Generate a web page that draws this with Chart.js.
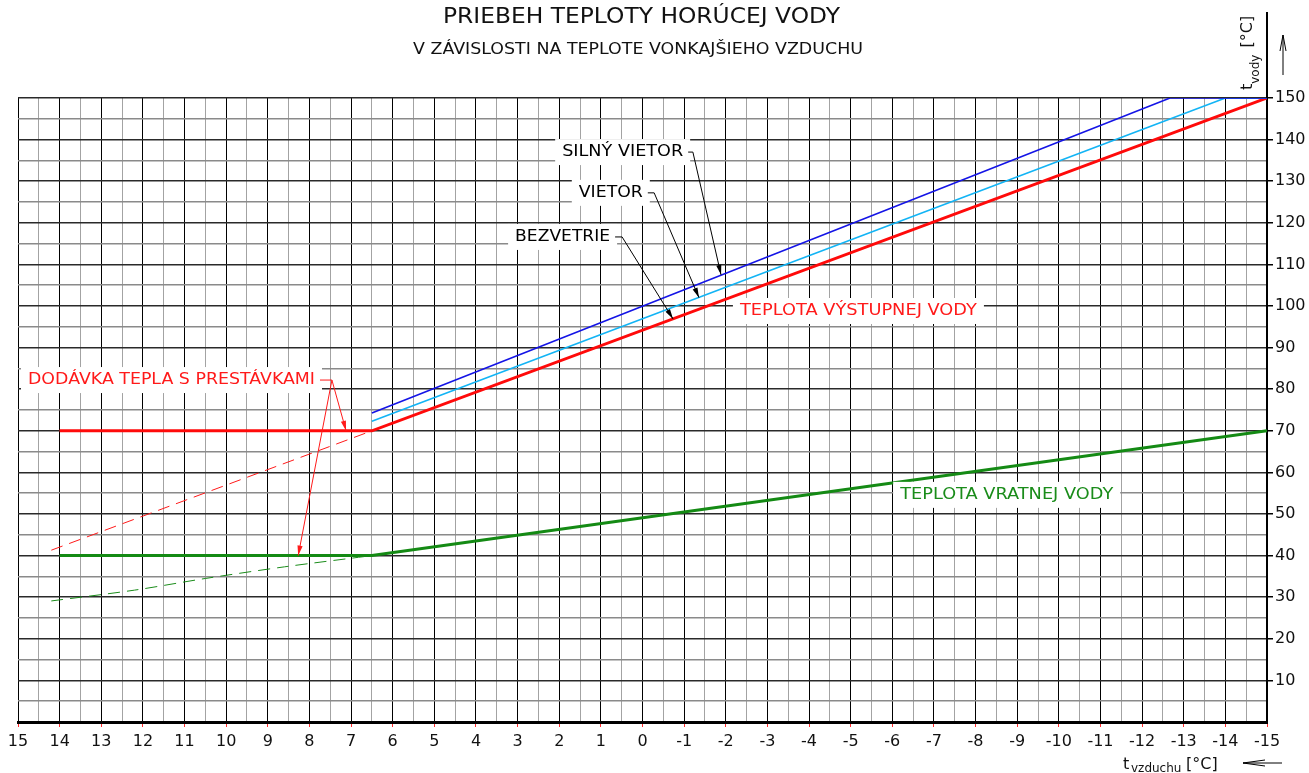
<!DOCTYPE html>
<html><head><meta charset="utf-8">
<script src="https://cdn.jsdelivr.net/npm/chart.js@4.4.1/dist/chart.umd.min.js"></script>
<style>html,body{margin:0;padding:0;background:#fff;overflow:hidden}canvas{display:block}</style>
</head><body>
<canvas id="c" width="1309" height="773"></canvas>
<script>
// ---- texts ----
const titleText = 'PRIEBEH TEPLOTY HORÚCEJ VODY';
const subtitleText = 'V ZÁVISLOSTI NA TEPLOTE VONKAJŠIEHO VZDUCHU';

// ---- axis ranges / ticks ----
const airTempMin = -15, airTempMax = 15;      // t vzduchu [°C]
const waterTempMin = 0, waterTempMax = 150;   // t vody [°C]
const yTickLabels = [10, 20, 30, 40, 50, 60, 70, 80, 90, 100, 110, 120, 130, 140, 150];

// ---- series (x = outside air temperature, y = water temperature) ----
const flowX = [14, 6.5, -15];            // TEPLOTA VÝSTUPNEJ VODY (bezvetrie)
const flowY = [70, 70, 150];
const windX = [6.5, -14.0, -15];          // VIETOR
const windY = [72.3, 150, 150];
const strongWindX = [6.5, -12.67, -15];   // SILNÝ VIETOR
const strongWindY = [74.3, 150, 150];
const returnX = [14, 6.5, -15];           // TEPLOTA VRATNEJ VODY
const returnY = [40, 40, 70];
const flowDashX = [14.2, 6.5];            // continuous supply (dashed)
const flowDashY = [41.3, 70];
const returnDashX = [14.2, 12.2, 10.5, 8.6, 6.5];
const returnDashY = [29.1, 31.7, 34.5, 37.3, 40];

const pts = (xs, ys) => xs.map((x, i) => ({x, y: ys[i]}));

const FONT = "'DejaVu Sans', Verdana, sans-serif";

// ---- annotation texts (anchored in data coordinates) ----
const notes = [
  {text: 'DODÁVKA TEPLA S PRESTÁVKAMI', x: 14.76, y: 82.2, w: 287, color: '#ff1a1a',
   corner: [7.46, 82.2], tips: [[7.12, 70], [8.27, 40]]},
  {text: 'SILNÝ VIETOR', x: 1.93, y: 137.0, w: 121, color: '#000',
   corner: [-1.21, 137.0], tips: [[-1.886, 107.5]]},
  {text: 'VIETOR', x: 1.53, y: 127.2, w: 64, color: '#000',
   corner: [-0.28, 127.2], tips: [[-1.357, 102.0]]},
  {text: 'BEZVETRIE', x: 3.06, y: 116.6, w: 95, color: '#000',
   corner: [0.49, 116.6], tips: [[-0.733, 96.9]]},
  {text: 'TEPLOTA VÝSTUPNEJ VODY', x: -2.34, y: 98.8, w: 237, color: '#ff1a1a'},
  {text: 'TEPLOTA VRATNEJ VODY', x: -6.19, y: 54.6, w: 213, color: '#1a8c1a'}
];

function fitText(ctx, text, left, cy, width, font, color) {
  ctx.save();
  ctx.font = font;
  ctx.fillStyle = color;
  ctx.textBaseline = 'middle';
  ctx.textAlign = 'left';
  const m = ctx.measureText(text).width;
  const sx = width / m;
  ctx.translate(left, cy);
  ctx.scale(sx, 1);
  ctx.fillText(text, 0, 0);
  ctx.restore();
}

function arrowLine(ctx, x1, y1, x2, y2, color, filled) {
  ctx.save();
  ctx.strokeStyle = color; ctx.fillStyle = color; ctx.lineWidth = 1;
  ctx.beginPath(); ctx.moveTo(x1, y1); ctx.lineTo(x2, y2); ctx.stroke();
  const a = Math.atan2(y2 - y1, x2 - x1);
  const L = 10, H = 2.6;
  const bx = x2 - L * Math.cos(a), by = y2 - L * Math.sin(a);
  const nx = -Math.sin(a) * H, ny = Math.cos(a) * H;
  ctx.beginPath();
  ctx.moveTo(x2, y2); ctx.lineTo(bx + nx, by + ny); ctx.lineTo(bx - nx, by - ny); ctx.closePath();
  if (filled) ctx.fill(); else ctx.stroke();
  ctx.restore();
}

function openArrow(ctx, x1, y1, x2, y2, L, H) {
  ctx.save();
  ctx.strokeStyle = '#000'; ctx.lineWidth = 1;
  ctx.beginPath(); ctx.moveTo(x1, y1); ctx.lineTo(x2, y2);
  const a = Math.atan2(y2 - y1, x2 - x1);
  const bx = x2 - L * Math.cos(a), by = y2 - L * Math.sin(a);
  const nx = -Math.sin(a) * H, ny = Math.cos(a) * H;
  ctx.moveTo(bx + nx, by + ny); ctx.lineTo(x2, y2); ctx.lineTo(bx - nx, by - ny);
  ctx.stroke();
  ctx.restore();
}

const decor = {
  id: 'decor',
  afterDraw(chart) {
    const ctx = chart.ctx;
    const xs = chart.scales.x, ys = chart.scales.y;
    const area = chart.chartArea;

    // titles
    ctx.save();
    ctx.fillStyle = '#111';
    ctx.textAlign = 'left';
    fitText(ctx, titleText, 443, 18, 397, '21px ' + FONT, '#111');
    fitText(ctx, subtitleText, 413, 50, 450, '15px ' + FONT, '#111');
    ctx.restore();

    // y axis extension upward
    ctx.save();
    ctx.strokeStyle = '#000'; ctx.lineWidth = 2;
    ctx.beginPath(); ctx.moveTo(area.right, 12); ctx.lineTo(area.right, area.top); ctx.stroke();
    ctx.restore();

    // y axis title (rotated)
    ctx.save();
    ctx.translate(area.right - 15, 90);
    ctx.rotate(-Math.PI / 2);
    ctx.fillStyle = '#111'; ctx.textBaseline = 'alphabetic'; ctx.textAlign = 'left';
    ctx.font = '16px ' + FONT;
    ctx.fillText('t', 0, 0);
    let w = ctx.measureText('t').width;
    ctx.font = '12px ' + FONT;
    ctx.fillText('vody', w, 7);
    w += ctx.measureText('vody').width;
    ctx.font = '16px ' + FONT;
    ctx.fillText(' [°C]', w + 2, 0);
    ctx.restore();
    openArrow(ctx, area.right + 16, 75, area.right + 16, 35, 16, 3);

    // x axis title
    ctx.save();
    ctx.fillStyle = '#111'; ctx.textBaseline = 'alphabetic'; ctx.textAlign = 'left';
    ctx.font = '16px ' + FONT;
    ctx.fillText('t', 1123, 769);
    ctx.font = '12px ' + FONT;
    ctx.fillText('vzduchu', 1131, 772);
    ctx.font = '16px ' + FONT;
    ctx.fillText('[°C]', 1186, 769);
    ctx.restore();
    openArrow(ctx, 1282, 763, 1243, 763, 22, 3);

    // notes
    notes.forEach(n => {
      const px = xs.getPixelForValue(n.x), py = ys.getPixelForValue(n.y);
      ctx.save();
      ctx.fillStyle = '#fff';
      ctx.fillRect(px - 7, py - 13, n.w + 14, 26);
      ctx.restore();
      fitText(ctx, n.text, px, py, n.w, '16px ' + FONT, n.color);
      if (n.corner) {
        const cx = xs.getPixelForValue(n.corner[0]), cy = ys.getPixelForValue(n.corner[1]);
        ctx.save();
        ctx.strokeStyle = n.color; ctx.lineWidth = 1;
        ctx.beginPath(); ctx.moveTo(px + n.w + 5, cy); ctx.lineTo(cx, cy); ctx.stroke();
        ctx.restore();
        n.tips.forEach(t => {
          arrowLine(ctx, cx, cy, xs.getPixelForValue(t[0]), ys.getPixelForValue(t[1]), n.color, true);
        });
      }
    });
  }
};

const isInt = v => Math.abs(v - Math.round(v)) < 1e-6;

new Chart(document.getElementById('c'), {
  type: 'line',
  data: {
    datasets: [
      {data: pts(returnDashX, returnDashY), borderColor: '#1a8c1a', borderWidth: 1, borderDash: [12, 7], tension: 0.3},
      {data: pts(flowDashX, flowDashY), borderColor: '#ff1a1a', borderWidth: 1, borderDash: [12, 7]},
      {data: pts(strongWindX, strongWindY), borderColor: '#1414e6', borderWidth: 1.6},
      {data: pts(windX, windY), borderColor: '#12b4f5', borderWidth: 1.6},
      {data: pts(returnX, returnY), borderColor: '#148a14', borderWidth: 3},
      {data: pts(flowX, flowY), borderColor: '#ff0a0a', borderWidth: 3}
    ]
  },
  options: {
    responsive: false,
    animation: false,
    devicePixelRatio: 1,
    layout: {padding: {top: 98, left: 18, right: 0, bottom: 0}},
    elements: {point: {radius: 0, hoverRadius: 0}, line: {fill: false, borderCapStyle: 'butt'}},
    plugins: {legend: {display: false}, tooltip: {enabled: false}, title: {display: false}},
    events: [],
    scales: {
      x: {
        type: 'linear', reverse: true, min: airTempMin, max: airTempMax, position: 'bottom',
        afterFit: s => { s.height = 51; },
        ticks: {
          stepSize: 0.5, autoSkip: false, maxRotation: 0, minRotation: 0, padding: 5,
          color: '#111', font: {family: FONT, size: 16},
          callback: v => isInt(v) ? String(Math.round(v)) : ''
        },
        grid: {
          color: c => isInt(c.tick.value) ? '#000' : '#a3a3a3',
          lineWidth: 1, tickLength: 5,
          tickColor: c => isInt(c.tick.value) ? '#ff2a2a' : 'rgba(0,0,0,0)'
        },
        border: {color: '#000', width: 3}
      },
      y: {
        type: 'linear', position: 'right', min: waterTempMin, max: waterTempMax,
        afterFit: s => { s.width = 42; },
        ticks: {
          stepSize: 5, autoSkip: false, padding: 2,
          color: '#111', font: {family: FONT, size: 16},
          callback: v => yTickLabels.includes(v) ? String(v) : ''
        },
        grid: {
          color: c => (c.tick.value % 10 === 0) ? '#2a2a2a' : '#8a8a8a',
          lineWidth: 1.5, tickLength: 6,
          tickColor: c => yTickLabels.includes(c.tick.value) ? '#000' : 'rgba(0,0,0,0)'
        },
        border: {color: '#000', width: 2}
      }
    }
  },
  plugins: [decor]
});
</script>
</body></html>
